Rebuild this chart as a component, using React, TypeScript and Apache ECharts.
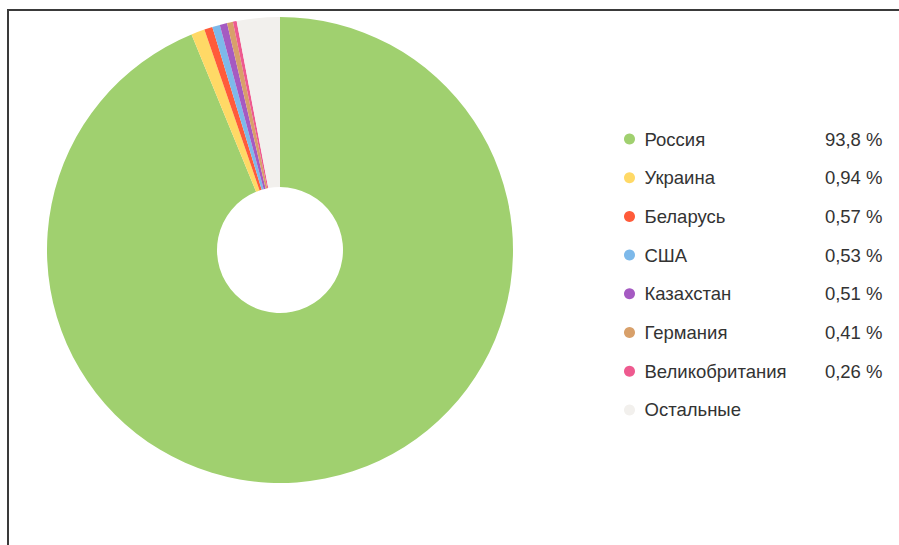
import React, { useEffect, useRef } from "react";
import * as echarts from "echarts";

const countries = ["Россия", "Украина", "Беларусь", "США", "Казахстан", "Германия", "Великобритания", "Остальные"];
const shares = [93.8, 0.94, 0.57, 0.53, 0.51, 0.41, 0.26, 2.98];
const shareLabels = ["93,8 %", "0,94 %", "0,57 %", "0,53 %", "0,51 %", "0,41 %", "0,26 %", ""];
const colors = ["#a0d06f", "#ffd966", "#ff5b3a", "#7db9ea", "#a55ac2", "#d8a06a", "#ee5a8f", "#f2f0ed"];

export default function App() {
  const ref = useRef<HTMLDivElement>(null);
  useEffect(() => {
    if (!ref.current) return;
    const chart = echarts.init(ref.current, undefined, { renderer: "svg" });
    const labelOf: Record<string, string> = {};
    countries.forEach((c, i) => (labelOf[c] = shareLabels[i]));
    chart.setOption({
      animation: false,
      color: colors,
      graphic: [
        {
          type: "rect",
          shape: { x: 8, y: 10, width: 1000, height: 1000 },
          style: { fill: "none", stroke: "#3a3a3a", lineWidth: 2 },
          z: 100,
        },
      ],
      legend: {
        orient: "vertical",
        left: 619,
        top: 124,
        itemWidth: 20,
        itemHeight: 11,
        itemGap: 18.7,
        icon: "circle",
        data: countries,
        formatter: (name: string) => `{n|${name}}{v|${labelOf[name]}}`,
        textStyle: {
          lineHeight: 20,
          rich: {
            n: { width: 168, fontSize: 18.5, color: "#333", fontFamily: "Liberation Sans, Arial", lineHeight: 20 },
            v: { width: 70, align: "right", fontSize: 18.5, color: "#333", fontFamily: "Liberation Sans, Arial", lineHeight: 20 },
          },
        },
      },
      series: [
        {
          type: "pie",
          center: [280, 250],
          radius: [63, 233],
          startAngle: 90,
          clockwise: true,
          label: { show: false },
          labelLine: { show: false },
          emphasis: { disabled: true },
          data: countries.map((c, i) => ({ name: c, value: shares[i] })),
        },
      ],
    });
    return () => chart.dispose();
  }, []);
  return <div ref={ref} style={{ position: "fixed", left: 0, top: 0, width: 899, height: 545, background: "#fff" }} />;
}
